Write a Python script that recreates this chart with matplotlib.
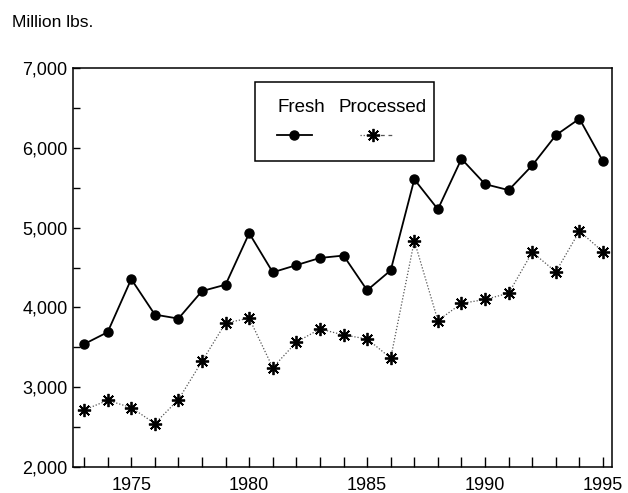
import matplotlib.pyplot as plt
from matplotlib.lines import Line2D
from matplotlib.patches import Rectangle
from matplotlib.ticker import MultipleLocator, FuncFormatter

plt.rcParams['font.family'] = ['Liberation Sans', 'DejaVu Sans']

years = list(range(1973, 1996))
fresh = [3540, 3690, 4355, 3910, 3860, 4205, 4285, 4930, 4440, 4530, 4620, 4650,
         4215, 4465, 5605, 5230, 5862, 5545, 5470, 5780, 6158, 6365, 5830]
processed = [2715, 2835, 2745, 2545, 2845, 3325, 3805, 3865, 3245, 3565, 3730, 3655,
             3605, 3365, 4835, 3835, 4050, 4100, 4178, 4692, 4446, 4955, 4698]

fig = plt.figure(figsize=(6.28, 4.93), dpi=100)
ax = fig.add_axes([0.1162, 0.0527, 0.8583, 0.8093])

ast = (8, 2, 0)
ax.plot(years, fresh, color='black', lw=1.3, marker='o', markersize=6.5)
ax.plot(years, processed, color='#555555', lw=0.9, linestyle=(0, (1, 1.5)),
        marker=ast, markersize=9.5, markeredgewidth=1.3, markeredgecolor='black')

ax.set_xlim(1972.53, 1995.38)
ax.set_ylim(2000, 7000)
ax.xaxis.set_major_locator(MultipleLocator(5))
ax.xaxis.set_minor_locator(MultipleLocator(1))
ax.yaxis.set_major_locator(MultipleLocator(1000))
ax.yaxis.set_minor_locator(MultipleLocator(500))
ax.yaxis.set_major_formatter(FuncFormatter(lambda v, p: f"{int(v):,}"))
ax.xaxis.set_major_formatter(FuncFormatter(lambda v, p: f"{int(v)}"))
ax.tick_params(axis='x', which='both', direction='in', length=7, width=1, labelsize=13, pad=7)
ax.tick_params(axis='y', which='both', direction='in', length=5, width=1, labelsize=13, pad=4)
for s in ax.spines.values():
    s.set_linewidth(1.1)

# legend box drawn by hand: labels above the line samples
tr = ax.transAxes
ax.add_patch(Rectangle((0.338, 0.767), 0.332, 0.198, transform=tr, fill=False,
                       edgecolor='black', lw=1.1))
ax.text(0.380, 0.902, "Fresh", transform=tr, fontsize=13.5, ha='left', va='center')
ax.text(0.493, 0.902, "Processed", transform=tr, fontsize=13.5, ha='left', va='center')
ax.add_line(Line2D([0.378, 0.443], [0.831, 0.831], transform=tr, color='black', lw=1.3))
ax.add_line(Line2D([0.410], [0.831], transform=tr, color='black', marker='o', markersize=6.5))
ax.add_line(Line2D([0.532, 0.557], [0.831, 0.831], transform=tr, color='#555555', lw=0.9,
                   linestyle=(0, (1, 1.5))))
ax.add_line(Line2D([0.557, 0.592], [0.831, 0.831], transform=tr, color='#555555', lw=0.9,
                   linestyle=(0, (3, 3))))
ax.add_line(Line2D([0.557], [0.831], transform=tr, color='black', marker=ast,
                   markersize=9.5, markeredgewidth=1.3))

fig.text(0.019, 0.955, "Million lbs.", fontsize=12.5, ha='left', va='center')

fig.savefig("out.png", dpi=100)
